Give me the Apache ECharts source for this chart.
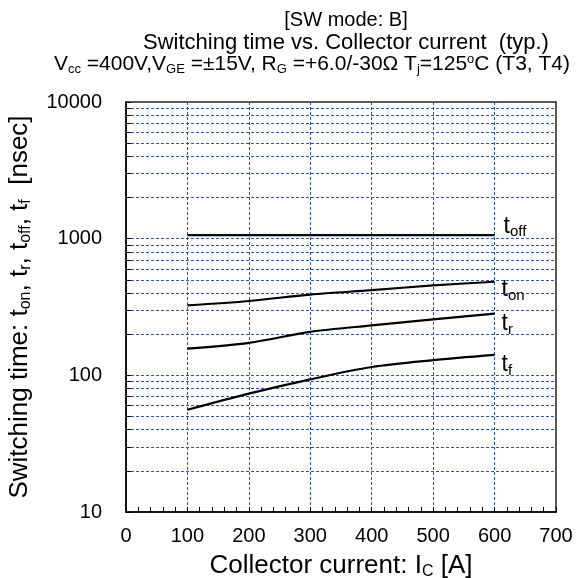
<!DOCTYPE html>
<html>
<head>
<meta charset="utf-8">
<script src="https://cdn.jsdelivr.net/npm/echarts@6/dist/echarts.min.js"></script>
<style>html,body{margin:0;padding:0;background:#fff}#c{width:582px;height:578px}</style>
</head>
<body>
<div id="c"></div>
<script>
// Collector current [A]
var current = [100, 200, 300, 400, 500, 600];
// Switching times [nsec]
var tOff = [1060, 1060, 1060, 1060, 1060, 1060];
var tOn = [325, 350, 390, 420, 455, 484];
var tR = [157, 173, 208, 232, 257, 283];
var tF = [56, 73.5, 93.5, 115, 129, 141];
// Axis tick values
var yLabelValues = [10, 100, 1000, 10000];
var yTickValues = [10, 20, 30, 40, 50, 60, 70, 80, 90,
  100, 200, 300, 400, 500, 600, 700, 800, 900,
  1000, 2000, 3000, 4000, 5000, 6000, 7000, 8000, 9000, 10000];

var FONT = 'Liberation Sans, Arial, sans-serif';
var GRIDC = '#2b55b0';

function pairs(ys) { return current.map(function (x, i) { return [x, ys[i]]; }); }

var endRich = {
  n: { fontSize: 23, fontFamily: FONT, color: '#000' },
  s: { fontSize: 15, fontFamily: FONT, color: '#000', padding: [12, 0, 0, 0] }
};

function mkSeries(name, ys, lbl, off) {
  return {
    name: name, type: 'line', data: pairs(ys), smooth: 0.3,
    symbol: 'none', lineStyle: { color: '#000', width: 2.2 },
    endLabel: { show: true, formatter: lbl, offset: off, rich: endRich, distance: 7 },
    z: 5
  };
}

var nameRich = {
  n: { fontSize: 26, fontFamily: FONT, color: '#000' },
  s: { fontSize: 16, fontFamily: FONT, color: '#000', padding: [13, 0, 0, 0] }
};

var chart = echarts.init(document.getElementById('c'), null, { renderer: 'canvas' });
chart.setOption({
  animation: false,
  backgroundColor: '#fff',
  textStyle: { fontFamily: FONT },
  title: [
    { text: '[SW mode: B]', left: 341, top: 5, textAlign: 'center',
      textStyle: { fontSize: 20, fontWeight: 'normal', color: '#000', fontFamily: FONT } },
    { text: 'Switching time vs. Collector current  (typ.)', left: 341, top: 27, textAlign: 'center',
      textStyle: { fontSize: 22, fontWeight: 'normal', color: '#000', fontFamily: FONT } },
    { text: '{n|V}{s|cc}{n| =400V,V}{s|GE}{n| =±15V, R}{s|G}{n| =+6.0/-30Ω T}{s|j}{n|=125}{p|o}{n|C (T3, T4)}',
      left: 307, top: 48, textAlign: 'center',
      textStyle: {
        fontWeight: 'normal',
        rich: {
          n: { fontSize: 21, fontFamily: FONT, color: '#000' },
          s: { fontSize: 13, fontFamily: FONT, color: '#000', padding: [10, 0, 0, 0] },
          p: { fontSize: 13, fontFamily: FONT, color: '#000', padding: [0, 0, 10, 0] }
        }
      } }
  ],
  grid: { left: 126, right: 26, top: 102, bottom: 66, show: true, borderColor: '#222', borderWidth: 1.5,
    containLabel: false, outerBoundsMode: 'none' },
  xAxis: {
    type: 'value', min: 0, max: 700, interval: 100,
    name: '{n|Collector current: I}{s|C}{n| [A]}',
    nameLocation: 'middle', nameGap: 39,
    nameTextStyle: { rich: nameRich },
    axisLine: { lineStyle: { color: '#000', width: 1.5 } },
    axisTick: { inside: true, length: 5, lineStyle: { color: '#000' } },
    minorTick: { show: true, splitNumber: 5, length: 5, lineStyle: { color: '#000' } },
    axisLabel: { fontSize: 20, color: '#000', fontFamily: FONT, margin: 14 },
    splitLine: { show: true, showMinLine: false, showMaxLine: false, lineStyle: { color: GRIDC, type: [3, 2], width: 1 } }
  },
  yAxis: {
    type: 'log', logBase: 10, min: 10, max: 10000,
    name: '{n|Switching time: t}{s|on}{n|, t}{s|r}{n|, t}{s|off}{n|, t}{s|f}{n|  [nsec]}',
    nameLocation: 'middle', nameGap: 92, nameRotate: 90,
    nameTextStyle: { rich: nameRich },
    axisLine: { show: true, lineStyle: { color: '#000', width: 1.5 } },
    axisTick: { show: true, inside: true, length: 5, customValues: yTickValues, lineStyle: { color: '#000' } },
    axisLabel: { fontSize: 20, color: '#000', fontFamily: FONT, margin: 24, customValues: yLabelValues,
      formatter: function (v) { return String(v); } },
    splitLine: { show: true, showMinLine: false, showMaxLine: false, lineStyle: { color: GRIDC, type: [3, 2], width: 1 } }
  },
  series: [
    mkSeries('toff', tOff, '{n|t}{s|off}', [2, -9]),
    mkSeries('ton', tOn, '{n|t}{s|on}', [0, 8]),
    mkSeries('tr', tR, '{n|t}{s|r}', [0, 10]),
    mkSeries('tf', tF, '{n|t}{s|f}', [0, 10])
  ]
});
</script>
</body>
</html>
